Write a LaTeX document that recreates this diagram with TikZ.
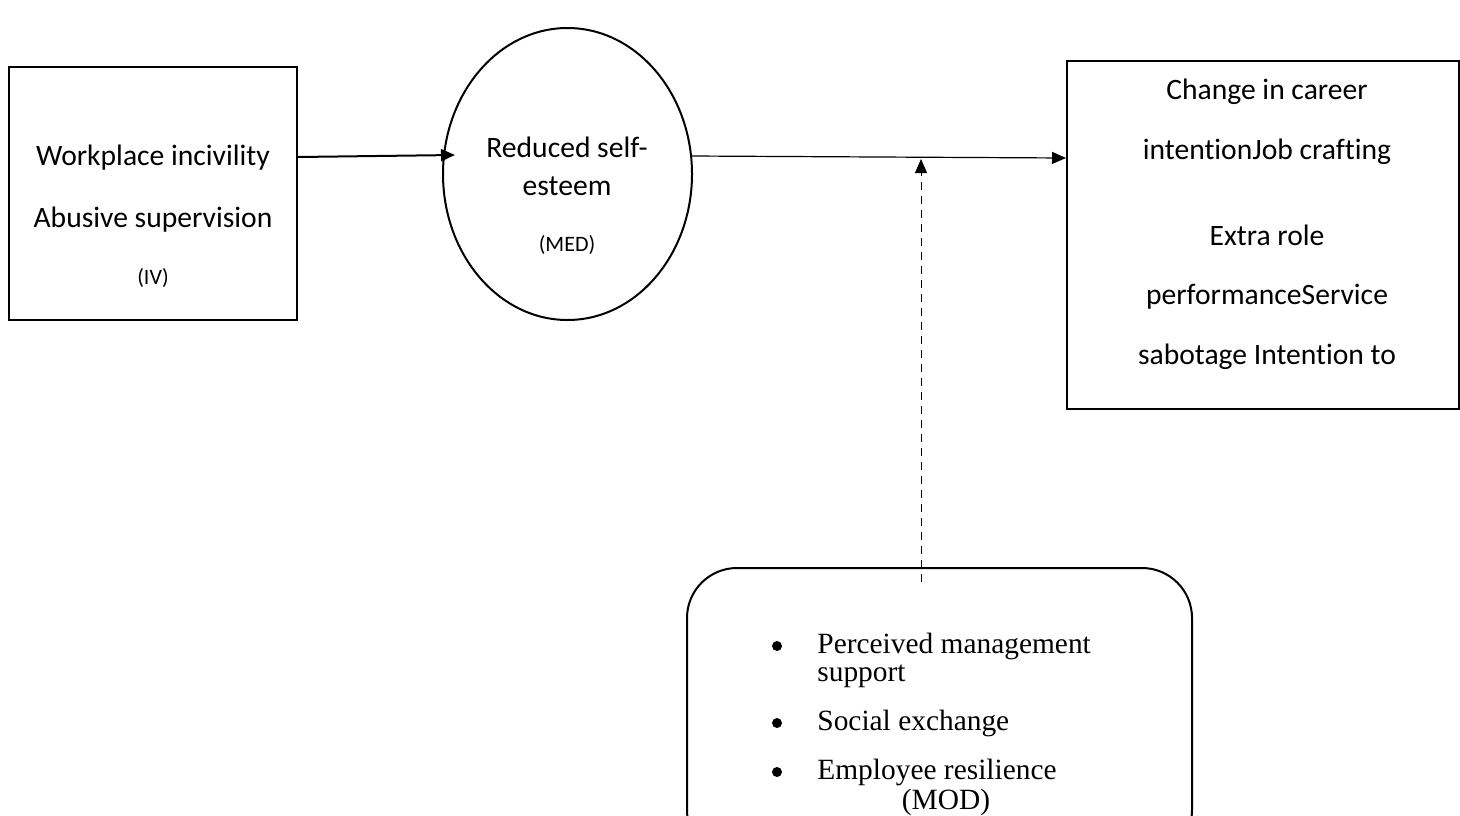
\documentclass[tikz,border=0pt]{standalone}
\usepackage{fontspec}
\setmainfont{Liberation Serif}
\newfontfamily\calibri[Ligatures=NoCommon]{Carlito}
\usetikzlibrary{arrows.meta,shapes.geometric}

\tikzset{
  frame/.style={draw, line width=1pt, inner sep=0pt},
  label/.style={font=\calibri\fontsize{14.8}{17}\selectfont, inner sep=0pt, anchor=center},
  small/.style={font=\calibri\fontsize{11}{13}\selectfont, inner sep=0pt, anchor=center},
  serif/.style={font=\fontsize{14.7}{14}\selectfont, inner sep=0pt, anchor=west},
  dot/.style={circle, fill, inner sep=0pt, minimum size=5pt},
  tip/.style={-{Triangle[length=7pt,width=6pt]}},
}

\begin{document}
\begin{tikzpicture}[x=0.5pt,y=-0.5pt]
\useasboundingbox (0,0) rectangle (1460,815);
\clip (0,0) rectangle (1460,815);

% independent variable
\node[frame, minimum width=144pt, minimum height=126.5pt] (iv) at (153,193.5) {};
\node[label] (iv1) at (153,158) {Workplace incivility};
\node[label] (iv2) at (153,220) {Abusive supervision};
\node[small] (iv3) at (153,278) {(IV)};

% mediator
\node[frame, ellipse, minimum width=124.5pt, minimum height=146pt] (med) at (567.5,174) {};
\node[label] (med1) at (567,147) {Reduced self-};
\node[label] (med2) at (567,186) {esteem};
\node[small] (med3) at (567,245) {(MED)};

% outcomes
\node[frame, minimum width=196pt, minimum height=174pt] (dv) at (1263,235) {};
\node[label] (dv1) at (1267,92) {Change in career};
\node[label] (dv2) at (1267,152) {intentionJob crafting};
\node[label] (dv3) at (1267,235) {Extra role};
\node[label] (dv4) at (1267,297) {performanceService};
\node[label] (dv5) at (1267,357) {sabotage Intention to};

% moderator
\node[frame, rounded corners=25pt, minimum width=252.5pt, minimum height=146pt] (mod) at (939.5,714) {};
\node[dot] (b1) at (777,646) {};
\node[dot] (b2) at (777,723) {};
\node[dot] (b3) at (777,772) {};
\node[serif, align=left] (m1) at (817,660) {Perceived management\\support};
\node[serif] (m3) at (817,723) {Social exchange};
\node[serif] (m4) at (817,772) {Employee resilience};
\node[serif, anchor=center] (m5) at (946,802) {(MOD)};

% paths
\coordinate (a1) at (iv.east |- 0,157);
\coordinate (a2) at (455,155);
\draw[tip, line width=1pt] (a1) -- (a2);

\coordinate (c1) at (692,156);
\coordinate (c2) at (dv.west |- 0,158);
\draw[tip, line width=0.6pt] (c1) -- (c2);

\coordinate (d1) at (921,582);
\coordinate (d2) at (921,159);
\draw[tip, line width=0.5pt, dash pattern=on 4pt off 3pt] (d1) -- (d2);
\end{tikzpicture}
\end{document}
